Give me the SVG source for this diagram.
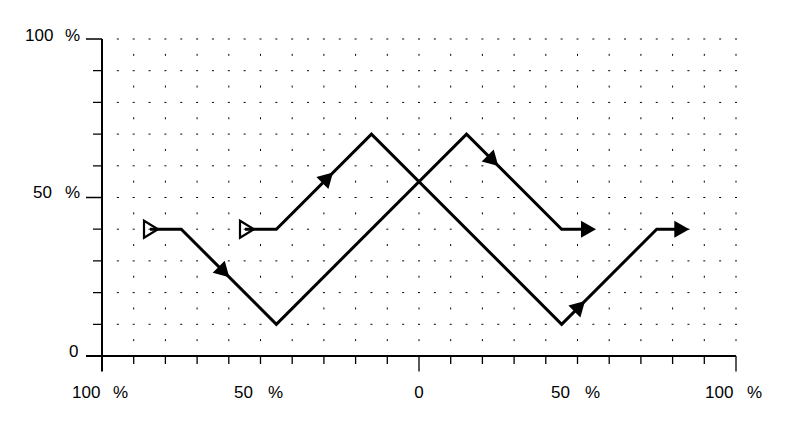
<svg xmlns="http://www.w3.org/2000/svg" xmlns:xlink="http://www.w3.org/1999/xlink" width="791" height="425" viewBox="0 0 791 425">
<style>
.lbl{font-family:"Liberation Sans",Arial,sans-serif;font-size:17px;fill:#000}
.axis{stroke:#000;stroke-width:2;fill:none}
.tick{stroke:#000;stroke-width:1.3;fill:none}
.dotH{stroke:#000;stroke-width:1;fill:none;stroke-dasharray:2 13.85}
.dotV{stroke:#000;stroke-width:1;fill:none;stroke-dasharray:2 29.7}
.curve{stroke:#000;stroke-width:3;fill:none;stroke-linejoin:miter}
.ah{fill:#000;stroke:none}
.st{fill:none;stroke:#000;stroke-width:2.2}
</style>
<defs>
<path id="ah" d="M0,0 L-15,-8.5 L-15,8.5 Z"/>
<path id="st" d="M0,-8.5 L14,0 L0,8.5 Z"/>
</defs>
<rect width="791" height="425" fill="#fff"/>
<g id="grid">
<path class="dotH" d="M116.85,39 H737 M116.85,70.7 H737 M116.85,102.4 H737 M116.85,134.1 H737 M116.85,165.8 H737 M116.85,197.5 H737 M116.85,229.2 H737 M116.85,260.9 H737 M116.85,292.6 H737 M116.85,324.3 H737"/>
<path class="dotV" d="M133.7,53.85 V350 M165.4,53.85 V350 M197.1,53.85 V350 M228.8,53.85 V350 M260.5,53.85 V350 M292.2,53.85 V350 M323.9,53.85 V350 M355.6,53.85 V350 M387.3,53.85 V350 M419,53.85 V350 M450.7,53.85 V350 M482.4,53.85 V350 M514.1,53.85 V350 M545.8,53.85 V350 M577.5,53.85 V350 M609.2,53.85 V350 M640.9,53.85 V350 M672.6,53.85 V350 M704.3,53.85 V350 M736,53.85 V350"/>
</g>
<g id="axes">
<path class="axis" d="M102,39 V371.5 M86,356 H736"/>
<path class="tick" d="M86,39 H102 M86,197.5 H102 M419,356 V371.5 M736,356 V371.5"/>
<path class="tick" d="M93,70.7 H102 M93,102.4 H102 M93,134.1 H102 M93,165.8 H102 M93,229.2 H102 M93,260.9 H102 M93,292.6 H102 M93,324.3 H102"/>
<path class="tick" d="M133.7,356 V364 M165.4,356 V364 M197.1,356 V364 M228.8,356 V364 M260.5,356 V364 M292.2,356 V364 M323.9,356 V364 M355.6,356 V364 M387.3,356 V364 M450.7,356 V364 M482.4,356 V364 M514.1,356 V364 M545.8,356 V364 M577.5,356 V364 M609.2,356 V364 M640.9,356 V364 M672.6,356 V364 M704.3,356 V364"/>
</g>
<g id="labels">
<text class="lbl" x="25" y="40.5">100<tspan x="65">%</tspan></text>
<text class="lbl" x="33" y="198">50<tspan x="65">%</tspan></text>
<text class="lbl" x="69" y="357">0</text>
<text class="lbl" x="72" y="398">100<tspan x="113">%</tspan></text>
<text class="lbl" x="234" y="398">50<tspan x="268">%</tspan></text>
<text class="lbl" x="419" y="398" text-anchor="middle">0</text>
<text class="lbl" x="551" y="398">50<tspan x="585">%</tspan></text>
<text class="lbl" x="705" y="398">100<tspan x="747">%</tspan></text>
</g>
<g id="connectors">
<g id="curveA">
<path class="curve" d="M150,229.2 H181.25 L276.35,324.3 L466.55,134.1 L561.65,229.2 H590"/>
<use xlink:href="#st" class="st" transform="translate(144,229.2)"/>
<use xlink:href="#ah" class="ah" transform="translate(229.3,277.3) rotate(45)"/>
<use xlink:href="#ah" class="ah" transform="translate(498.3,166) rotate(45)"/>
<use xlink:href="#ah" class="ah" transform="translate(596,229.2)"/>
</g>
<g id="curveB">
<path class="curve" d="M245,229.2 H276.35 L371.45,134.1 L561.65,324.3 L656.75,229.2 H683"/>
<use xlink:href="#st" class="st" transform="translate(240,229.2)"/>
<use xlink:href="#ah" class="ah" transform="translate(333,172.5) rotate(-45)"/>
<use xlink:href="#ah" class="ah" transform="translate(585,301) rotate(-45)"/>
<use xlink:href="#ah" class="ah" transform="translate(689.3,229.2)"/>
</g>
</g>
</svg>
